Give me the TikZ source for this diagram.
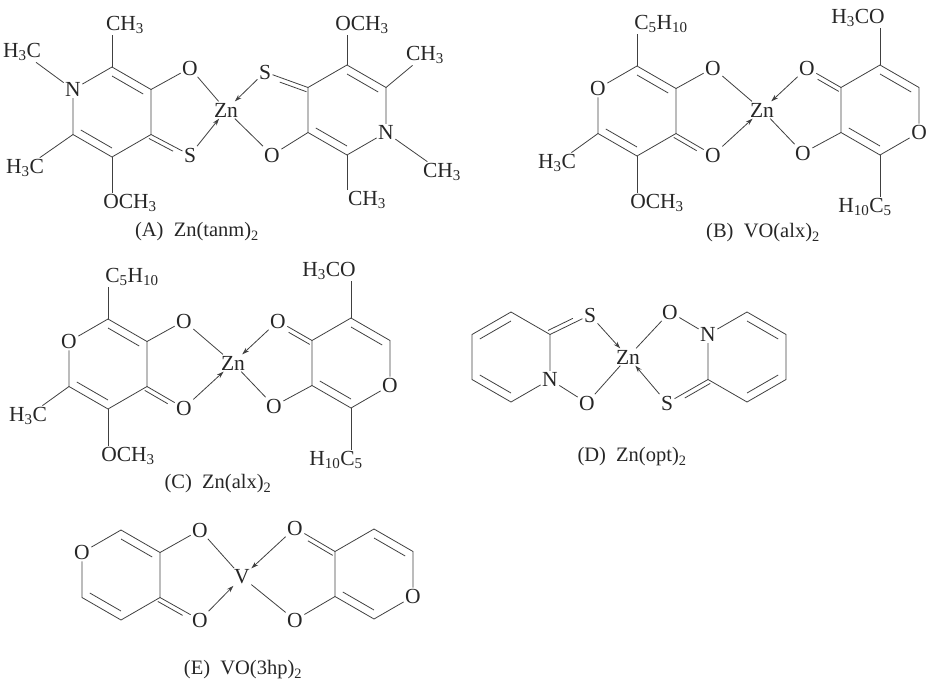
\documentclass[tikz,border=0pt]{standalone}
\usepackage{fontspec}
\setmainfont{Liberation Serif}
\usetikzlibrary{calc,arrows.meta}
\newcommand\mhex[3]{%
 \coordinate (#1c) at (#2,#3);
 \coordinate (#11) at ({#2},{#3-45});
 \coordinate (#12) at ({#2+39},{#3-22.5});
 \coordinate (#13) at ({#2+39},{#3+22.5});
 \coordinate (#14) at ({#2},{#3+45});
 \coordinate (#15) at ({#2-39},{#3+22.5});
 \coordinate (#16) at ({#2-39},{#3-22.5});}
\newcommand\mring[1]{\draw (#11)--(#12)--(#13)--(#14)--(#15)--(#16)--(#11);}
\newcommand\minn[3]{\draw ($(#1#2)!0.2!(#1c)$) -- ($(#1#3)!0.2!(#1c)$);}
\newcommand\mexo[3]{\draw (#1)--(#2); \draw ($(#1)!4.5pt!#3:(#2)$) -- ($(#1)!0.62!(#2)!4.5pt!#3:(#2)$);}
\newcommand\alxmol{%
 \mhex{c}{637}{111}
 \node[atom] (c6) at (c6) {O};
 \node[atom] (cT) at (661,24) {C\textsubscript{5}H\textsubscript{10}};
 \node[atom] (cL) at (557,163) {H\textsubscript{3}C};
 \node[atom] (cB) at (657,203) {OCH\textsubscript{3}};
 \node[atom] (cO1) at (713,68) {O};
 \node[atom] (cO2) at (713,155) {O};
 \node[atom] (M) at (762,110) {Zn};
 \mring{c} \minn{c}{1}{2} \minn{c}{4}{5}
 \draw (c1) -- (cT.south -| c1);
 \draw (c4) -- (cB.north -| c4);
 \draw (c5) -- (cL);
 \draw (c2) -- (cO1);
 \mexo{c3}{cO2}{-90}
 \draw (cO1) -- (M);
 \draw[arr] (cO2) -- (M);
 \mhex{d}{880}{110}
 \node[atom] (d3) at (d3) {O};
 \node[atom] (dT) at (858,18) {H\textsubscript{3}CO};
 \node[atom] (dB) at (865,207) {H\textsubscript{10}C\textsubscript{5}};
 \node[atom] (dO1) at (807,68) {O};
 \node[atom] (dO2) at (803,153) {O};
 \mring{d} \minn{d}{1}{2} \minn{d}{4}{5}
 \draw (d1) -- (dT.south -| d1);
 \draw (d4) -- (dB.north -| d4);
 \mexo{d6}{dO1}{90}
 \draw (d5) -- (dO2);
 \draw[arr] (dO1) -- (M);
 \draw (dO2) -- (M);}
\begin{document}
\begin{tikzpicture}[x=1pt,y=-1pt,line width=0.8pt,draw=black!75,
 atom/.style={inner sep=1.2pt,text=black!85,font=\fontsize{21.5}{23}\selectfont},
 arr/.style={-{Stealth[length=7pt,width=4.5pt]}},
 ttl/.style={text=black!85,font=\fontsize{20.5}{23}\selectfont}]
\useasboundingbox (0,0) rectangle (928,688);
% ---------- A ----------
\mhex{a}{112}{112}
\node[atom] (a6) at (a6) {N};
\node[atom] (aUL) at (22,52) {H\textsubscript{3}C};
\node[atom] (aT) at (125,25) {CH\textsubscript{3}};
\node[atom] (aLL) at (25,168) {H\textsubscript{3}C};
\node[atom] (aB) at (130,203) {OCH\textsubscript{3}};
\node[atom] (aO) at (190,68) {O};
\node[atom] (aS) at (190,155) {S};
\node[atom] (Zn1) at (226,110) {Zn};
\mring{a} \minn{a}{1}{2} \minn{a}{4}{5}
\draw (a6) -- (aUL);
\draw (a5) -- (aLL);
\draw (a1) -- (aT.south -| a1);
\draw (a4) -- (aB.north -| a4);
\draw (a2) -- (aO);
\mexo{a3}{aS}{-90}
\draw (aO) -- (Zn1);
\draw[arr] (aS) -- (Zn1);
\mhex{b}{347}{110}
\node[atom] (b3) at (b3) {N};
\node[atom] (bT) at (362,25) {OCH\textsubscript{3}};
\node[atom] (bUR) at (425,55) {CH\textsubscript{3}};
\node[atom] (bLR) at (442,172) {CH\textsubscript{3}};
\node[atom] (bB) at (367,200) {CH\textsubscript{3}};
\node[atom] (bO) at (272,155) {O};
\node[atom] (bS) at (265,72) {S};
\mring{b} \minn{b}{1}{2} \minn{b}{4}{5}
\draw (b1) -- (bT.south -| b1);
\draw (b4) -- (bB.north -| b4);
\draw (b2) -- (bUR);
\draw (b3) -- (bLR);
\draw (b5) -- (bO);
\mexo{b6}{bS}{90}
\draw[arr] (bS) -- (Zn1);
\draw (bO) -- (Zn1);
\node[ttl] (tA) at (197,232) {(A)\ \ Zn(tanm)\textsubscript{2}};
% ---------- B and C ----------
\begin{scope}\alxmol\end{scope}
\node[ttl] (tB) at (763,233) {(B)\ \ VO(alx)\textsubscript{2}};
\begin{scope}[shift={(-529,253)}]\alxmol\end{scope}
\node[ttl] (tC) at (218,484) {(C)\ \ Zn(alx)\textsubscript{2}};
% ---------- D ----------
\mhex{e}{511}{357}
\node[atom] (e3) at (e3) {N};
\node[atom] (eS) at (590,315) {S};
\node[atom] (eO) at (587,403) {O};
\node[atom] (Zn4) at (628,357) {Zn};
\mring{e} \minn{e}{6}{1} \minn{e}{4}{5}
\mexo{e2}{eS}{90}
\draw (e3) -- (eO);
\draw[arr] (eS) -- (Zn4);
\draw (eO) -- (Zn4);
\mhex{f}{747}{357}
\node[atom] (f6) at (f6) {N};
\node[atom] (fO) at (670,312) {O};
\node[atom] (fS) at (667,403) {S};
\mring{f} \minn{f}{1}{2} \minn{f}{3}{4}
\mexo{f5}{fS}{90}
\draw (f6) -- (fO);
\draw (fO) -- (Zn4);
\draw[arr] (fS) -- (Zn4);
\node[ttl] (tD) at (632,457) {(D)\ \ Zn(opt)\textsubscript{2}};
% ---------- E ----------
\mhex{g}{121}{575}
\node[atom] (g6) at (g6) {O};
\node[atom] (gO1) at (200,530) {O};
\node[atom] (gO2) at (200,620) {O};
\node[atom] (V) at (242,577) {V};
\mring{g} \minn{g}{1}{2} \minn{g}{4}{5}
\draw (g2) -- (gO1);
\mexo{g3}{gO2}{-90}
\draw (gO1) -- (V);
\draw[arr] (gO2) -- (V);
\mhex{h}{374}{574}
\node[atom] (h3) at (h3) {O};
\node[atom] (hO1) at (295,528) {O};
\node[atom] (hO2) at (295,620) {O};
\mring{h} \minn{h}{1}{2} \minn{h}{4}{5}
\mexo{h6}{hO1}{90}
\draw (h5) -- (hO2);
\draw[arr] (hO1) -- (V);
\draw (hO2) -- (V);
\node[ttl] (tE) at (243,670) {(E)\ \ VO(3hp)\textsubscript{2}};
\end{tikzpicture}
\end{document}
